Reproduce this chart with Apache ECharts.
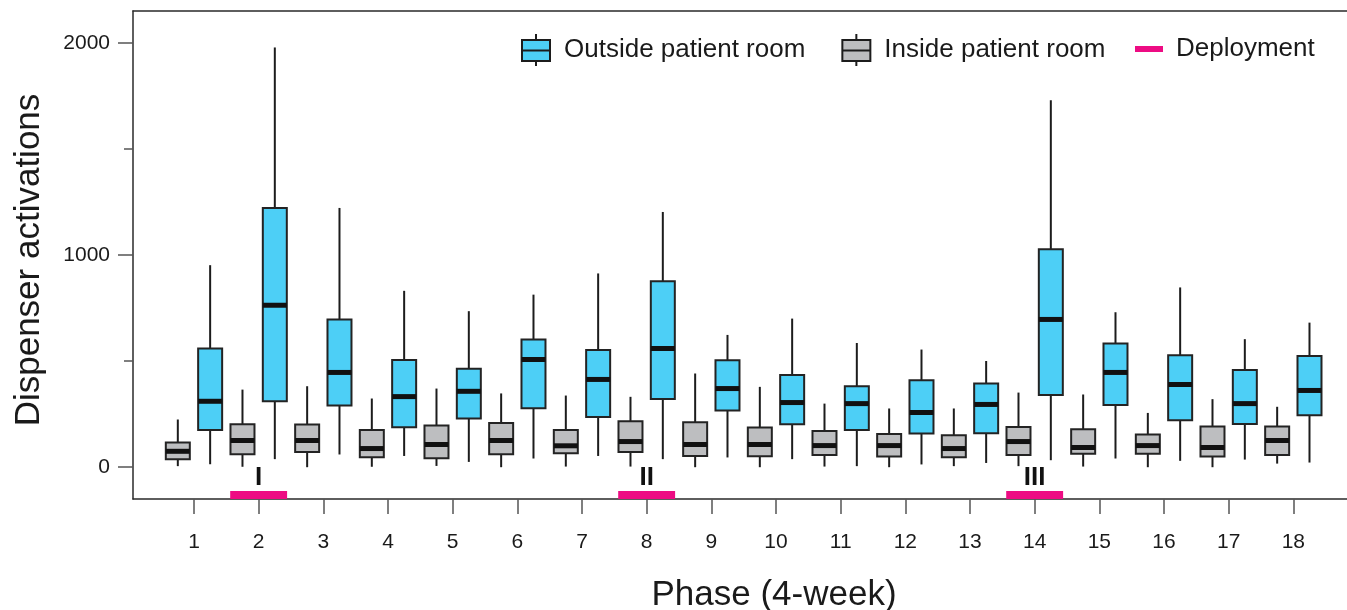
<!DOCTYPE html>
<html>
<head>
<meta charset="utf-8">
<script src="https://cdn.jsdelivr.net/npm/echarts@6.0.0/dist/echarts.min.js"></script>
<style>
  html, body { margin: 0; padding: 0; background: #fff; }
  #chart { width: 1347px; height: 610px; }
</style>
</head>
<body>
<div id="chart"></div>
<script>
// phases (4-week) on the x axis
var phases = [1, 2, 3, 4, 5, 6, 7, 8, 9, 10, 11, 12, 13, 14, 15, 16, 17, 18];

// inside patient room (grey boxes)
var insideMin = [5, 2, 0, 2, 6, 0, 3, 3, 0, 0, 3, 0, 5, 5, 3, 0, 0, 17];
var insideQ1  = [38, 61, 72, 47, 42, 61, 66, 72, 53, 52, 58, 50, 47, 58, 63, 63, 50, 57];
var insideMed = [75, 126, 126, 88, 107, 126, 101, 121, 107, 107, 102, 102, 88, 121, 93, 102, 93, 126];
var insideQ3  = [117, 203, 201, 175, 197, 209, 176, 217, 212, 187, 171, 157, 151, 190, 179, 154, 192, 192];
var insideMax = [225, 366, 382, 324, 371, 348, 338, 332, 442, 379, 300, 277, 277, 352, 343, 256, 321, 285];

// outside patient room (blue boxes)
var outsideMin = [14, 38, 60, 53, 25, 41, 53, 38, 46, 38, 5, 13, 20, 33, 41, 30, 36, 22];
var outsideQ1  = [175, 311, 291, 189, 230, 278, 237, 322, 267, 203, 175, 159, 160, 341, 294, 222, 204, 245];
var outsideMed = [311, 764, 447, 333, 358, 508, 414, 560, 371, 305, 300, 258, 296, 697, 447, 390, 300, 362];
var outsideQ3  = [560, 1223, 697, 506, 464, 602, 553, 877, 505, 435, 382, 410, 395, 1028, 583, 528, 458, 524];
var outsideMax = [953, 1980, 1223, 832, 736, 814, 914, 1204, 624, 701, 586, 555, 501, 1731, 731, 848, 604, 682];

// deployments
var deployPhases = [2, 8, 14];
var deployLabels = ['I', 'II', 'III'];

var yTicks = [0, 1000, 2000];
var yMinorTicks = [500, 1500];

var BLUE = '#4DCFF6';
var GREY = '#BDBEC0';
var PINK = '#ED0C83';
var FONT = '"Liberation Sans", Arial, sans-serif';

var chartDom = document.getElementById('chart');
var chart = echarts.init(chartDom, null, { renderer: 'canvas' });

function buildBoxData(mins, q1s, meds, q3s, maxs) {
    return phases.map(function (p, i) {
        return [p, mins[i], q1s[i], meds[i], q3s[i], maxs[i]];
    });
}

function boxRenderer(offset, fill) {
    return function (params, api) {
        var x = api.value(0) + offset;
        var lo = api.coord([x, api.value(1)]);
        var q1 = api.coord([x, api.value(2)]);
        var med = api.coord([x, api.value(3)]);
        var q3 = api.coord([x, api.value(4)]);
        var hi = api.coord([x, api.value(5)]);
        var w = 24;
        var cx = lo[0];
        return {
            type: 'group',
            children: [
                { type: 'line', shape: { x1: cx, y1: lo[1], x2: cx, y2: q1[1] },
                  style: { stroke: '#1c1c1c', lineWidth: 2 } },
                { type: 'line', shape: { x1: cx, y1: q3[1], x2: cx, y2: hi[1] },
                  style: { stroke: '#1c1c1c', lineWidth: 2 } },
                { type: 'rect', shape: { x: cx - w / 2, y: q3[1], width: w, height: q1[1] - q3[1] },
                  style: { fill: fill, stroke: '#232323', lineWidth: 2 } },
                { type: 'line', shape: { x1: cx - w / 2, y1: med[1], x2: cx + w / 2, y2: med[1] },
                  style: { stroke: '#111', lineWidth: 5 } }
            ]
        };
    };
}

function deployRenderer(params, api) {
    var p = api.value(0);
    var left = api.coord([p - 0.44, -150]);
    var right = api.coord([p + 0.44, -150]);
    var mid = api.coord([p, -150]);
    return {
        type: 'group',
        children: [
            { type: 'rect', shape: { x: left[0], y: left[1] - 8, width: right[0] - left[0], height: 8 },
              style: { fill: PINK } },
            { type: 'text', x: mid[0], y: mid[1] - 8,
              style: { text: deployLabels[params.dataIndex], fill: '#111', font: 'bold 26px ' + FONT,
                       align: 'center', verticalAlign: 'bottom' } }
        ]
    };
}

var boxIcon = 'path://M0 6 H28 V27 H0 Z M14 0 V6 M14 27 V32 M0 16.5 H28';

var option = {
    animation: false,
    backgroundColor: '#fff',
    textStyle: { fontFamily: FONT },
    grid: { left: 133, right: 0, top: 11, bottom: 111, containLabel: false, outerBoundsMode: 'none' },
    legend: [{
        left: 521,
        top: 33,
        padding: 0,
        itemWidth: 28,
        itemHeight: 32,
        itemGap: 36,
        textStyle: { fontSize: 26, color: '#1a1a1a', fontFamily: FONT, padding: [0, 0, 0, 9] },
        data: [
            { name: 'Outside patient room', icon: boxIcon,
              itemStyle: { color: BLUE, borderColor: '#1c1c1c', borderWidth: 2 } },
            { name: 'Inside patient room', icon: boxIcon,
              itemStyle: { color: GREY, borderColor: '#1c1c1c', borderWidth: 2 } }
        ]
    }, {
        left: 1135,
        top: 36,
        padding: 0,
        itemWidth: 28,
        itemHeight: 6,
        textStyle: { fontSize: 26, color: '#1a1a1a', fontFamily: FONT, padding: [0, 0, 0, 8] },
        data: [{ name: 'Deployment', icon: 'rect', itemStyle: { color: PINK, borderWidth: 0 } }]
    }],
    xAxis: [{
        type: 'value',
        min: 0.057,
        max: 18.83,
        name: 'Phase (4-week)',
        nameLocation: 'middle',
        nameGap: 79,
        nameTextStyle: { fontSize: 35, color: '#1a1a1a', padding: [0, 0, 0, 68] },
        axisLine: { show: true, onZero: false, lineStyle: { color: '#2a2a2a', width: 1.5 } },
        axisTick: { show: true, length: 15, customValues: phases, lineStyle: { color: '#555', width: 1.5 } },
        axisLabel: { customValues: phases, margin: 33, fontSize: 21, color: '#1a1a1a' },
        splitLine: { show: false }
    }, {
        type: 'value',
        position: 'top',
        min: 0.057,
        max: 18.83,
        axisLine: { show: true, onZero: false, lineStyle: { color: '#2a2a2a', width: 1.5 } },
        axisTick: { show: false },
        axisLabel: { show: false },
        splitLine: { show: false }
    }],
    yAxis: [{
        type: 'value',
        min: -150,
        max: 2152,
        name: 'Dispenser activations',
        nameLocation: 'middle',
        nameRotate: 90,
        nameGap: 86,
        nameTextStyle: { fontSize: 35, color: '#1a1a1a', padding: [0, 10, 0, 0] },
        axisLine: { show: true, onZero: false, lineStyle: { color: '#2a2a2a', width: 1.5 } },
        axisTick: { show: true, length: 15, customValues: yTicks, lineStyle: { color: '#555', width: 1.5 } },
        axisLabel: { customValues: yTicks, margin: 23, fontSize: 21, color: '#1a1a1a',
                     formatter: function (v) { return String(v); } },
        splitLine: { show: false }
    }, {
        type: 'value',
        position: 'left',
        min: -150,
        max: 2152,
        axisLine: { show: false },
        axisTick: { show: true, length: 9, customValues: yMinorTicks, lineStyle: { color: '#555', width: 1.5 } },
        axisLabel: { show: false, customValues: yMinorTicks },
        splitLine: { show: false }
    }],
    series: [{
        name: 'Outside patient room',
        type: 'custom',
        itemStyle: { color: BLUE },
        renderItem: boxRenderer(0.25, BLUE),
        encode: { x: 0, y: [1, 5] },
        data: buildBoxData(outsideMin, outsideQ1, outsideMed, outsideQ3, outsideMax)
    }, {
        name: 'Inside patient room',
        type: 'custom',
        itemStyle: { color: GREY },
        renderItem: boxRenderer(-0.25, GREY),
        encode: { x: 0, y: [1, 5] },
        data: buildBoxData(insideMin, insideQ1, insideMed, insideQ3, insideMax)
    }, {
        name: 'Deployment',
        type: 'custom',
        itemStyle: { color: PINK },
        renderItem: deployRenderer,
        encode: { x: 0 },
        data: deployPhases.map(function (p) { return [p]; })
    }]
};

chart.setOption(option);
</script>
</body>
</html>
